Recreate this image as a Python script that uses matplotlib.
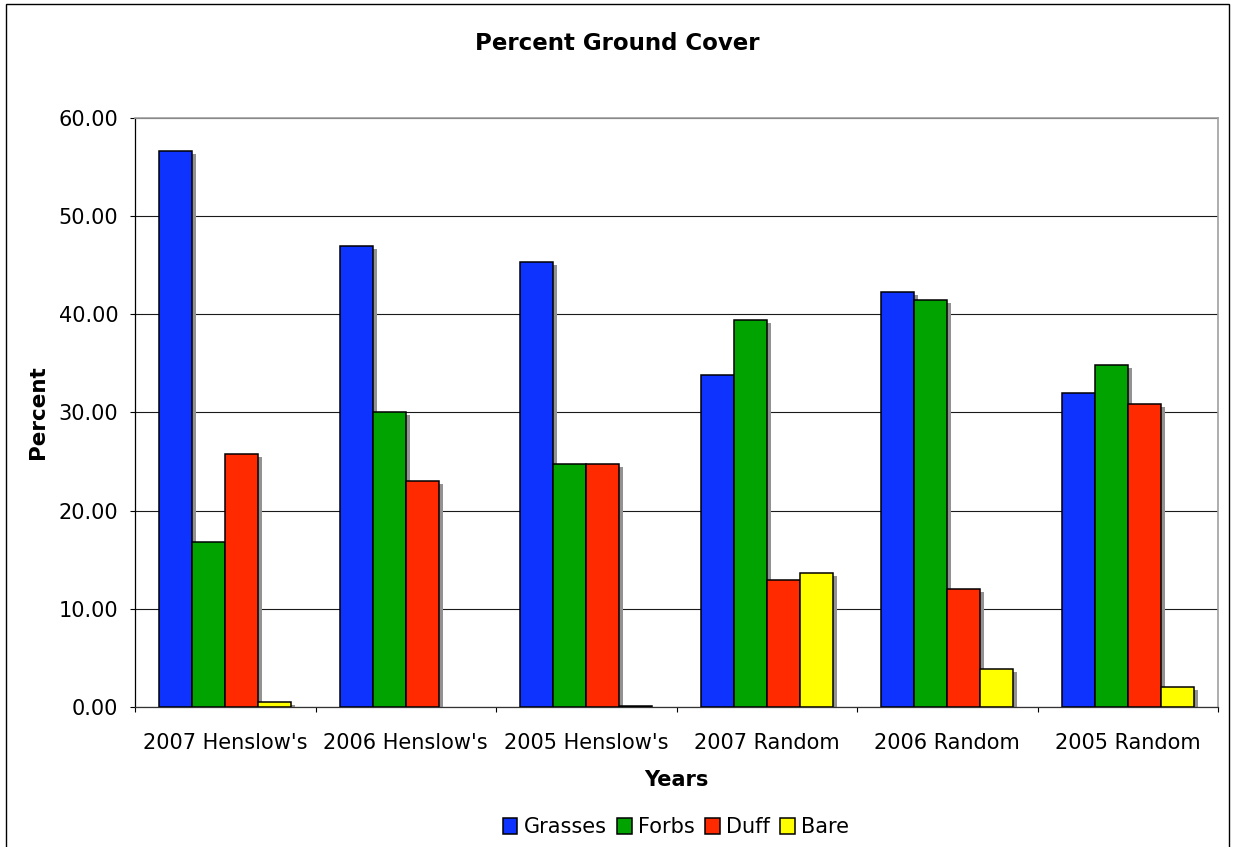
import matplotlib
matplotlib.use("Agg")
import matplotlib.pyplot as plt
import matplotlib.transforms as mtransforms
from matplotlib.patches import Rectangle
from matplotlib.ticker import FixedLocator, FormatStrFormatter
import numpy as np

plt.rcParams['font.family'] = ['DejaVu Sans']

# Ground-cover survey results (percent)
sites = ["2007 Henslow's", "2006 Henslow's", "2005 Henslow's",
         "2007 Random", "2006 Random", "2005 Random"]
grasses = [56.6, 47.0, 45.3, 33.8, 42.3, 32.0]
forbs = [16.8, 30.0, 24.8, 39.4, 41.5, 34.8]
duff = [25.8, 23.0, 24.8, 12.9, 12.0, 30.9]
bare = [0.5, 0.0, 0.1, 13.7, 3.9, 2.0]

series_names = ["Grasses", "Forbs", "Duff", "Bare"]
series_values = [grasses, forbs, duff, bare]
series_colors = ["#0f33ff", "#00a300", "#ff2a00", "#ffff00"]

fig = plt.figure(figsize=(12.33, 8.47), dpi=100)
ax_left, ax_right, ax_top, ax_bottom = 135, 1218, 118, 707
ax = fig.add_axes([ax_left / 1233, 1 - ax_bottom / 847,
                   (ax_right - ax_left) / 1233, (ax_bottom - ax_top) / 847])

x = np.arange(len(sites))
width = 0.183
offsets = (np.arange(4) - 1.5) * width

# drop shadow: shift a few pixels right and down
shadow_tf = ax.transData + mtransforms.ScaledTranslation(4 / 100, -3 / 100, fig.dpi_scale_trans)

handles = []
for off, vals, col, name in zip(offsets, series_values, series_colors, series_names):
    shadows = ax.bar(x + off, vals, width, color="#929292", edgecolor="none",
                     transform=shadow_tf, zorder=2)
    b = ax.bar(x + off, vals, width, color=col, edgecolor="black",
               linewidth=1.1, zorder=3, label=name)
    # an empty category leaves no visible bar
    for s, r, v in zip(shadows, b, vals):
        if v == 0:
            s.set_visible(False)
            r.set_visible(False)
    handles.append(b)

ax.set_xlim(-0.5, len(sites) - 0.5)
ax.set_ylim(0, 60)

# y axis
ax.yaxis.set_major_locator(FixedLocator(np.arange(0, 61, 10)))
ax.yaxis.set_major_formatter(FormatStrFormatter("%.2f"))
ax.yaxis.grid(True, color="#1a1a1a", linewidth=0.8, zorder=1)
ax.set_axisbelow(True)
ax.tick_params(axis="y", direction="out", length=3.6, width=0.8, pad=8.5,
               labelsize=15, color="black")

# x axis: ticks at group boundaries, labels at group centres
ax.xaxis.set_major_locator(FixedLocator(np.arange(-0.5, len(sites), 1.0)))
ax.xaxis.set_major_formatter(plt.NullFormatter())
ax.xaxis.set_minor_locator(FixedLocator(x))
ax.set_xticklabels(sites, minor=True)
ax.tick_params(axis="x", which="major", direction="out", length=3.6, width=0.8)
ax.tick_params(axis="x", which="minor", length=0, pad=19, labelsize=15)

for side in ("top", "right"):
    ax.spines[side].set_color("#a0a0a0")
    ax.spines[side].set_linewidth(1.2)
ax.spines["left"].set_color("black")
ax.spines["bottom"].set_color("#333333")
ax.spines["left"].set_linewidth(0.9)
ax.spines["bottom"].set_linewidth(0.9)

ax.set_ylabel("Percent", fontsize=15.5, fontweight="bold")
ax.yaxis.set_label_coords((38 - ax_left) / (ax_right - ax_left), 0.5)
ax.yaxis.label.set_verticalalignment("center")
ax.set_xlabel("Years", fontsize=15, fontweight="bold", labelpad=12)

fig.text(617 / 1233, 1 - 44 / 847, "Percent Ground Cover", ha="center", va="center",
         fontsize=16.5, fontweight="bold")

fig.legend(handles=handles, labels=series_names, loc="center",
           bbox_to_anchor=(676 / 1233, 1 - 827 / 847), ncol=4, frameon=False,
           fontsize=15, handlelength=0.7, handleheight=0.8, handletextpad=0.3,
           columnspacing=0.5, borderpad=0)

# outer chart border
fig.patches.append(Rectangle((6 / 1233, -0.02), (1229 - 6) / 1233, 1 - 4 / 847 + 0.02,
                             transform=fig.transFigure, fill=False,
                             edgecolor="black", linewidth=1.0, clip_on=False))

fig.savefig("out.png", dpi=100)
